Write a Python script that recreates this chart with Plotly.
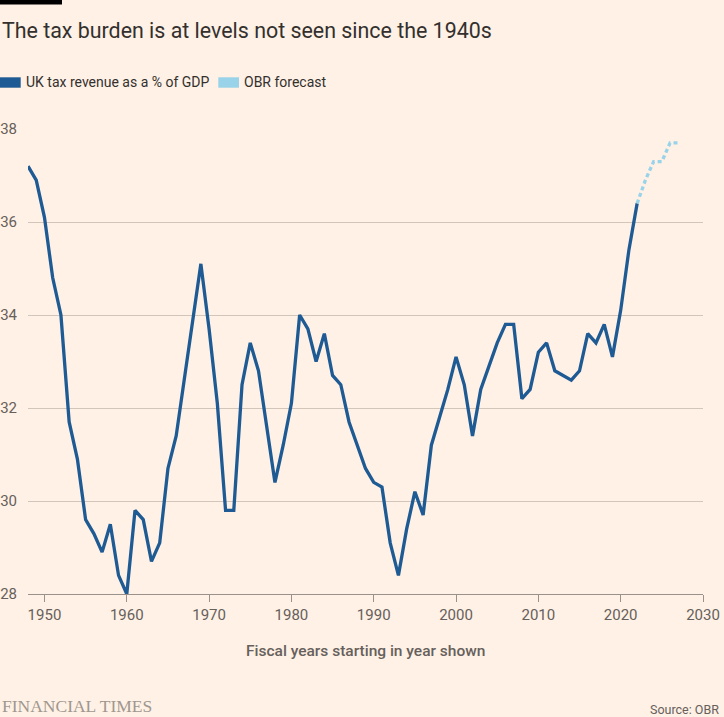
import plotly.graph_objects as go

# ---- data ----
years = list(range(1948, 2023))
tax_share = [
    37.2, 36.9, 36.1, 34.8, 34.0, 31.7, 30.9, 29.6, 29.3, 28.9,   # 1948-1957
    29.5, 28.4, 28.0, 29.8, 29.6, 28.7, 29.1, 30.7, 31.4, 32.6,   # 1958-1967
    33.8, 35.1, 33.7, 32.1, 29.8, 29.8, 32.5, 33.4, 32.8, 31.6,   # 1968-1977
    30.4, 31.2, 32.1, 34.0, 33.7, 33.0, 33.6, 32.7, 32.5, 31.7,   # 1978-1987
    31.2, 30.7, 30.4, 30.3, 29.1, 28.4, 29.4, 30.2, 29.7, 31.2,   # 1988-1997
    31.8, 32.4, 33.1, 32.5, 31.4, 32.4, 32.9, 33.4, 33.8, 33.8,   # 1998-2007
    32.2, 32.4, 33.2, 33.4, 32.8, 32.7, 32.6, 32.8, 33.6, 33.4,   # 2008-2017
    33.8, 33.1, 34.1, 35.4, 36.4,                                 # 2018-2022
]
forecast_years = [2022, 2023, 2024, 2025, 2026, 2027]
forecast_share = [36.4, 36.9, 37.3, 37.3, 37.7, 37.7]

x_ticks = [1950, 1960, 1970, 1980, 1990, 2000, 2010, 2020, 2030]
y_ticks = [28, 30, 32, 34, 36, 38]

title_text = "The tax burden is at levels not seen since the 1940s"
legend_labels = ["UK tax revenue as a % of GDP", "OBR forecast"]
x_title = "Fiscal years starting in year shown"
source_text = "Source: OBR"
brand_text = "FINANCIAL TIMES"

# ---- styling ----
W, H = 724, 717
ML, MR, MT, MB = 28, 21, 129, 123
PW, PH = W - ML - MR, H - MT - MB
BG = "#FFF1E5"
BLUE = "#1E5A93"
LIGHT = "#98D3EA"
GRID = "#D2C6BA"
AXIS = "#9A918A"
TXT = "#33302E"
SUB = "#66605C"
FONT = "Roboto"


def px(xp):
    return (xp - ML) / PW


def py(yp):
    return (H - MB - yp) / PH


fig = go.Figure()
fig.add_trace(go.Scatter(
    x=years, y=tax_share, mode="lines",
    line=dict(color=BLUE, width=3.3), showlegend=False,
    hoverinfo="skip",
))
fig.add_trace(go.Scatter(
    x=forecast_years, y=forecast_share, mode="lines",
    line=dict(color=LIGHT, width=3.3, dash="4px,3px"), showlegend=False,
    hoverinfo="skip",
))

shapes = [
    # black bar top-left
    dict(type="rect", xref="paper", yref="paper", x0=px(0), x1=px(62),
         y0=py(4.5), y1=py(0), fillcolor="#000000", line=dict(width=0), layer="above"),
    # legend swatches
    dict(type="rect", xref="paper", yref="paper", x0=px(0), x1=px(20.7),
         y0=py(87.7), y1=py(77.3), fillcolor=BLUE, line=dict(width=0)),
    dict(type="rect", xref="paper", yref="paper", x0=px(218.3), x1=px(239),
         y0=py(87.7), y1=py(77.3), fillcolor=LIGHT, line=dict(width=0)),
]

annotations = [
    dict(text=title_text, xref="paper", yref="paper", x=px(0), y=py(30.5),
         xanchor="left", yanchor="middle", showarrow=False,
         font=dict(family=FONT, size=21.4, color=TXT)),
    dict(text=legend_labels[0], xref="paper", yref="paper", x=px(23.5), y=py(82.5),
         xanchor="left", yanchor="middle", showarrow=False,
         font=dict(family=FONT, size=14, color=TXT)),
    dict(text=legend_labels[1], xref="paper", yref="paper", x=px(241.5), y=py(82.5),
         xanchor="left", yanchor="middle", showarrow=False,
         font=dict(family=FONT, size=14, color=TXT)),
    dict(text=x_title, xref="paper", yref="paper", x=0.5, y=py(651),
         xanchor="center", yanchor="middle", showarrow=False,
         font=dict(family=FONT, size=15.5, color=SUB, weight=500)),
    dict(text=brand_text, xref="paper", yref="paper", x=px(0), y=py(706),
         xanchor="left", yanchor="middle", showarrow=False,
         font=dict(family="Liberation Serif", size=17.5, color="#A0978F")),
    dict(text=source_text, xref="paper", yref="paper", x=px(721), y=py(709),
         xanchor="right", yanchor="middle", showarrow=False,
         font=dict(family=FONT, size=12.5, color=SUB)),
]

fig.update_layout(
    template="none",
    width=W, height=H,
    margin=dict(l=ML, r=MR, t=MT, b=MB, pad=0, autoexpand=False),
    paper_bgcolor=BG, plot_bgcolor=BG,
    font=dict(family=FONT, color=SUB),
    shapes=shapes, annotations=annotations,
    showlegend=False,
    xaxis=dict(
        range=[1948, 2030], tickvals=x_ticks, ticktext=[str(t) for t in x_ticks],
        showgrid=False, zeroline=False, automargin=False,
        showline=True, linecolor=AXIS, linewidth=1.3,
        ticks="outside", ticklen=7, tickwidth=1.3, tickcolor=AXIS,
        tickfont=dict(family=FONT, size=15, color=SUB),
        fixedrange=True,
    ),
    yaxis=dict(
        range=[28, 38], tickvals=y_ticks, ticktext=[str(t) for t in y_ticks],
        showgrid=True, gridcolor=GRID, gridwidth=1.2, zeroline=False,
        automargin=False,
        showline=False, ticks="", ticklabelstandoff=10,
        tickfont=dict(family=FONT, size=15, color=SUB),
        fixedrange=True,
    ),
)

fig.write_html(
    "out.html",
    config=dict(displayModeBar=False),
    post_script="document.body.style.margin='0px';document.body.style.background='#FFF1E5';",
)
